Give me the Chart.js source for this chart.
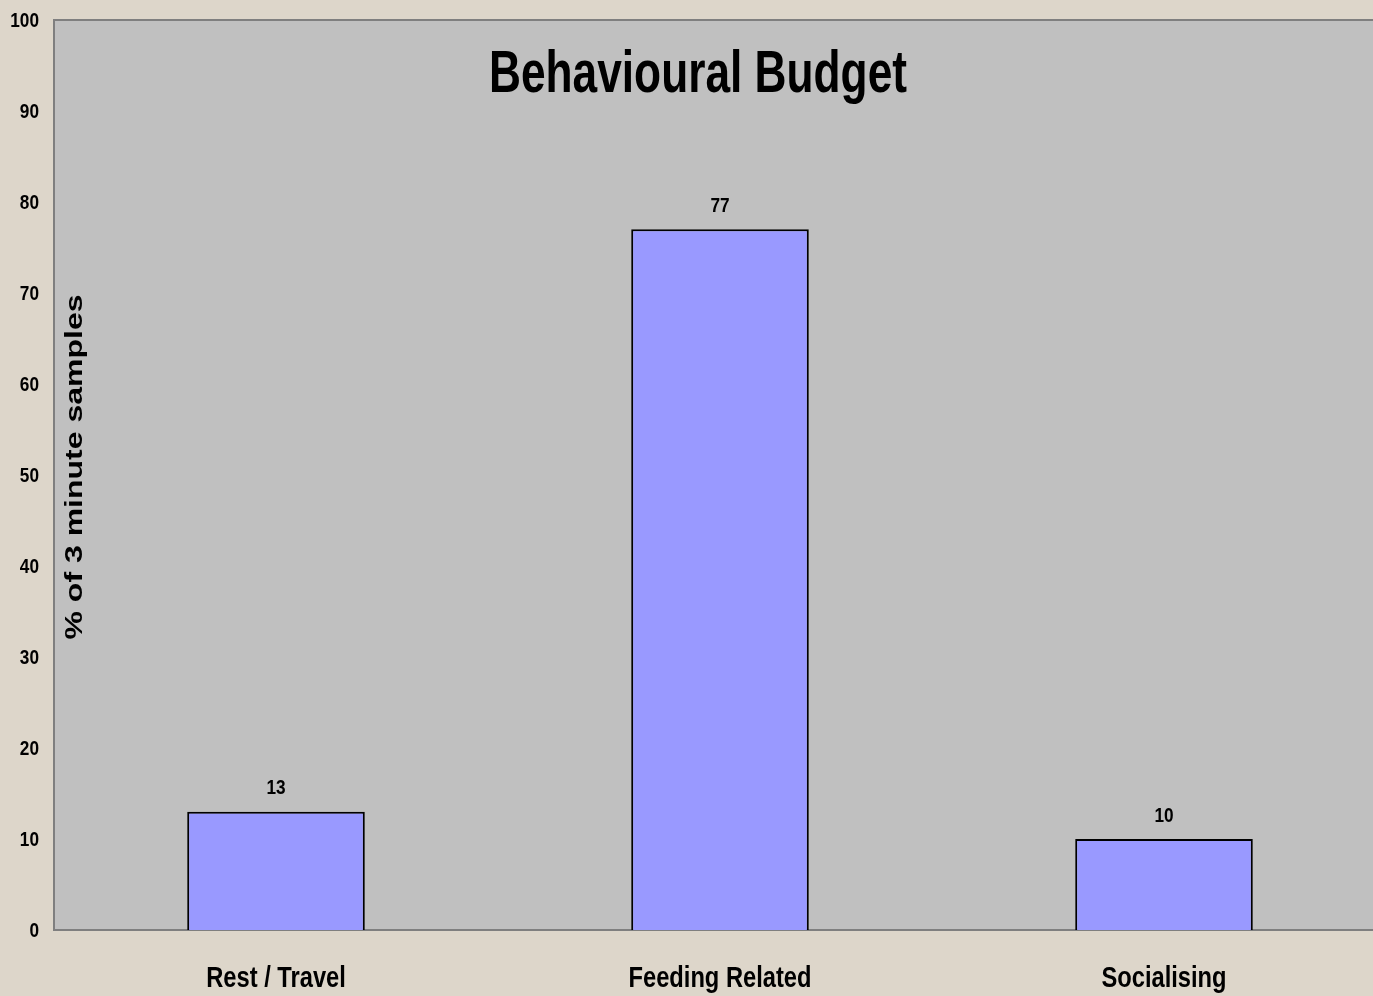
<!DOCTYPE html>
<html>
<head>
<meta charset="utf-8">
<script src="https://cdn.jsdelivr.net/npm/chart.js@4"></script>
<style>
  html, body { margin:0; padding:0; overflow:hidden; background:#ddd6ca; }
  #wrap { position:absolute; left:0; top:0; width:1400px; height:996px; }
</style>
</head>
<body>
<div id="wrap"><canvas id="myChart"></canvas></div>
<script>
// chart data
var categories = ['Rest / Travel', 'Feeding Related', 'Socialising'];
var values = [13, 77, 10];
var yTicks = [0, 10, 20, 30, 40, 50, 60, 70, 80, 90, 100];
var chartTitle = 'Behavioural Budget';
var yTitle = '% of 3 minute samples';

var sans = '"Liberation Sans", Arial, sans-serif';

// condensed text: no narrow font installed, so squeeze horizontally
function narrowText(ctx, txt, x, y, size, squeeze, align) {
  ctx.save();
  ctx.font = 'bold ' + size + 'px ' + sans;
  ctx.textAlign = align || 'center';
  ctx.textBaseline = 'middle';
  ctx.translate(x, y);
  ctx.scale(squeeze, 1);
  ctx.fillText(txt, 0, 0);
  ctx.restore();
}

var decor = {
  id: 'decor',
  beforeDraw: function(chart) {
    var ctx = chart.ctx, a = chart.chartArea;
    ctx.save();
    ctx.fillStyle = '#c0c0c0';
    ctx.fillRect(a.left, a.top, a.right - a.left, a.bottom - a.top);
    ctx.strokeStyle = '#7f7f7f';
    ctx.lineWidth = 2;
    ctx.beginPath();
    ctx.moveTo(a.right, a.top);
    ctx.lineTo(a.left, a.top);
    ctx.lineTo(a.left, a.bottom);
    ctx.lineTo(a.right, a.bottom);
    ctx.stroke();
    ctx.restore();
  },
  afterDatasetsDraw: function(chart) {
    var ctx = chart.ctx;
    var xs = chart.scales.x, ys = chart.scales.y;
    ctx.fillStyle = '#000';
    // y tick labels
    yTicks.forEach(function(v) {
      narrowText(ctx, String(v), 39, ys.getPixelForValue(v) + 1, 21, 0.82, 'right');
    });
    // category labels
    categories.forEach(function(c, i) {
      narrowText(ctx, c, xs.getPixelForTick(i), 979, 30, 0.79);
    });
    // value labels
    chart.getDatasetMeta(0).data.forEach(function(bar, i) {
      narrowText(ctx, String(values[i]), bar.x, bar.y - 23, 21, 0.82);
    });
    // title
    narrowText(ctx, chartTitle, 698, 76, 59, 0.75);
    // y axis title, stretched along its length
    ctx.save();
    ctx.font = 'bold 24px ' + sans;
    ctx.textAlign = 'center';
    ctx.textBaseline = 'middle';
    var w = ctx.measureText(yTitle).width;
    ctx.translate(75, 467);
    ctx.rotate(-Math.PI / 2);
    ctx.scale(345 / w, 1);
    ctx.fillText(yTitle, 0, 0);
    ctx.restore();
  }
};

var ctx = document.getElementById('myChart').getContext('2d');
var chart = new Chart(ctx, {
  type: 'bar',
  data: {
    labels: categories,
    datasets: [{
      data: values,
      backgroundColor: '#9999ff',
      borderColor: '#000',
      borderWidth: 2,
      barPercentage: 0.4,
      categoryPercentage: 1
    }]
  },
  options: {
    responsive: true,
    maintainAspectRatio: false,
    animation: false,
    layout: { padding: { top: 20, right: 14, left: 0, bottom: 0 } },
    plugins: { legend: { display: false }, tooltip: { enabled: false } },
    scales: {
      x: {
        grid: { display: false, drawTicks: false },
        border: { display: false },
        ticks: { display: false },
        afterFit: function(s) { s.height = 66; }
      },
      y: {
        min: 0, max: 100,
        grid: { display: false, drawTicks: false },
        border: { display: false },
        ticks: { display: false, stepSize: 10 },
        afterFit: function(s) { s.width = 54; }
      }
    }
  },
  plugins: [decor]
});
</script>
</body>
</html>
